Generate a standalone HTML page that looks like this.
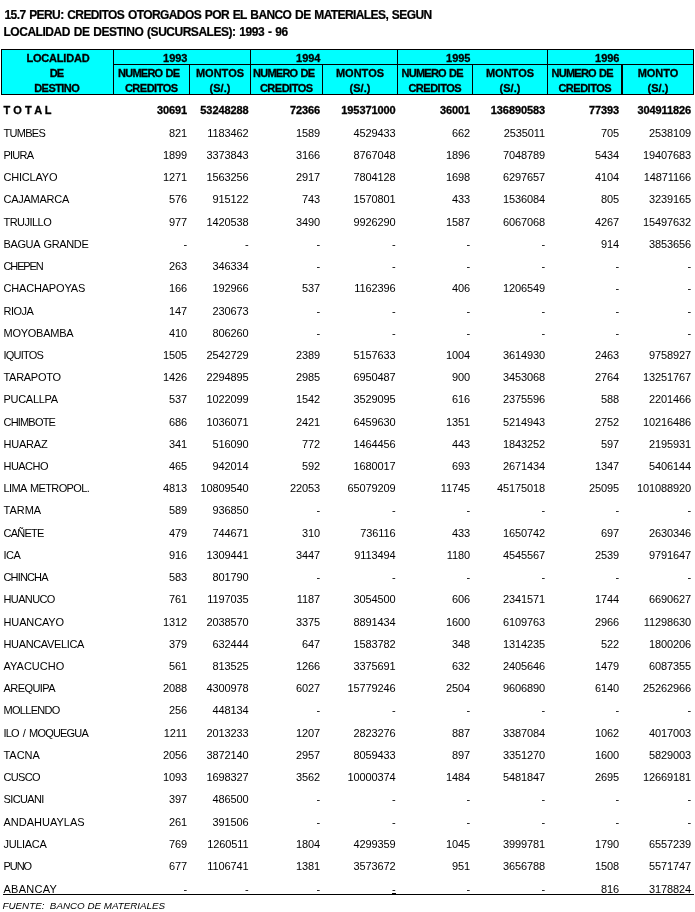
<!DOCTYPE html>
<html lang="es"><head><meta charset="utf-8"><title>15.7 PERU: CREDITOS OTORGADOS POR EL BANCO DE MATERIALES</title>
<style>
html,body{margin:0;padding:0;background:#fff;}
body{width:695px;height:912px;position:relative;overflow:hidden;font-family:"Liberation Sans",sans-serif;color:#000;}
.t{position:absolute;left:3.5px;font-weight:bold;-webkit-text-stroke:0.2px #000;font-size:12px;line-height:14px;white-space:nowrap;letter-spacing:-0.57px;word-spacing:1px;}
.r{position:absolute;left:0;width:695px;height:13px;font-size:11px;line-height:13px;white-space:nowrap;}
.r span{position:absolute;top:0;}
.r .l{left:3.5px;}
.r .n{text-align:right;width:80px;letter-spacing:-0.12px;}
.b .n{letter-spacing:-0.1px;}
.b{font-weight:bold;-webkit-text-stroke:0.3px #000;}
.hd{position:absolute;background:#0ff;border:1px solid #000;box-sizing:border-box;}
.h{position:absolute;-webkit-text-stroke:0.3px #000;font-weight:bold;font-size:11px;line-height:13px;height:13px;text-align:center;white-space:nowrap;}
.hr{position:absolute;-webkit-text-stroke:0.3px #000;font-weight:bold;font-size:11px;line-height:13px;height:13px;text-align:right;white-space:nowrap;width:60px;}
.ln{position:absolute;background:#000;}
.f{position:absolute;left:2.5px;font-style:italic;font-size:9.8px;line-height:12px;white-space:pre;}
</style></head><body>
<div class="t" style="top:8px;left:4.5px;letter-spacing:-0.6px">15.7 PERU: CREDITOS OTORGADOS POR EL BANCO DE MATERIALES, SEGUN</div>
<div class="t" style="top:25px;letter-spacing:-0.48px">LOCALIDAD DE DESTINO (SUCURSALES): 1993 - 96</div>
<div class="hd" style="left:1px;top:49px;width:693px;height:46px"></div>
<div class="ln" style="left:113px;top:49px;width:1px;height:46px"></div>
<div class="ln" style="left:189px;top:64px;width:1px;height:31px"></div>
<div class="ln" style="left:250px;top:49px;width:1px;height:46px"></div>
<div class="ln" style="left:322px;top:64px;width:1px;height:31px"></div>
<div class="ln" style="left:397px;top:49px;width:1px;height:46px"></div>
<div class="ln" style="left:472px;top:64px;width:1px;height:31px"></div>
<div class="ln" style="left:547px;top:49px;width:1px;height:46px"></div>
<div class="ln" style="left:621px;top:64px;width:2px;height:31px"></div>
<div class="ln" style="left:113px;top:64px;width:581px;height:1px"></div>
<div class="h" style="left:-2.1px;width:120px;top:52px;letter-spacing:-0.2px;word-spacing:0.2px">LOCALIDAD</div>
<div class="h" style="left:-3.5px;width:120px;top:67px;letter-spacing:-1px;word-spacing:1px">DE</div>
<div class="h" style="left:-3.275px;width:120px;top:82px;letter-spacing:-0.55px;word-spacing:0.55px">DESTINO</div>
<div class="hr" style="left:127.5px;top:52px">1993</div>
<div class="h" style="left:88.625px;width:120px;top:67px;letter-spacing:-0.75px;word-spacing:0.75px">NUMERO DE</div>
<div class="h" style="left:91.25px;width:120px;top:82px;letter-spacing:-0.5px;word-spacing:0.5px">CREDITOS</div>
<div class="h" style="left:160px;width:120px;top:67px">MONTOS</div>
<div class="h" style="left:160px;width:120px;top:82px">(S/.)</div>
<div class="hr" style="left:260.5px;top:52px">1994</div>
<div class="h" style="left:223.625px;width:120px;top:67px;letter-spacing:-0.75px;word-spacing:0.75px">NUMERO DE</div>
<div class="h" style="left:226.25px;width:120px;top:82px;letter-spacing:-0.5px;word-spacing:0.5px">CREDITOS</div>
<div class="h" style="left:300px;width:120px;top:67px">MONTOS</div>
<div class="h" style="left:300px;width:120px;top:82px">(S/.)</div>
<div class="hr" style="left:410.5px;top:52px">1995</div>
<div class="h" style="left:372.125px;width:120px;top:67px;letter-spacing:-0.75px;word-spacing:0.75px">NUMERO DE</div>
<div class="h" style="left:374.75px;width:120px;top:82px;letter-spacing:-0.5px;word-spacing:0.5px">CREDITOS</div>
<div class="h" style="left:450px;width:120px;top:67px">MONTOS</div>
<div class="h" style="left:450px;width:120px;top:82px">(S/.)</div>
<div class="hr" style="left:559.5px;top:52px">1996</div>
<div class="h" style="left:522.125px;width:120px;top:67px;letter-spacing:-0.75px;word-spacing:0.75px">NUMERO DE</div>
<div class="h" style="left:524.75px;width:120px;top:82px;letter-spacing:-0.5px;word-spacing:0.5px">CREDITOS</div>
<div class="h" style="left:598px;width:120px;top:67px">MONTO</div>
<div class="h" style="left:598px;width:120px;top:82px">(S/.)</div>
<div class="r b" style="top:104px"><span class="l">T O T A L</span><span class="n" style="left:107px">30691</span><span class="n" style="left:168.5px">53248288</span><span class="n" style="left:240px">72366</span><span class="n" style="left:315.5px">195371000</span><span class="n" style="left:390px">36001</span><span class="n" style="left:465px">136890583</span><span class="n" style="left:539px">77393</span><span class="n" style="left:611px">304911826</span></div>
<div class="r" style="top:127px"><span class="l" style="letter-spacing:-0.72px">TUMBES</span><span class="n" style="left:107px">821</span><span class="n" style="left:168.5px">1183462</span><span class="n" style="left:240px">1589</span><span class="n" style="left:315.5px">4529433</span><span class="n" style="left:390px">662</span><span class="n" style="left:465px">2535011</span><span class="n" style="left:539px">705</span><span class="n" style="left:611px">2538109</span></div>
<div class="r" style="top:149px"><span class="l" style="letter-spacing:-0.78px">PIURA</span><span class="n" style="left:107px">1899</span><span class="n" style="left:168.5px">3373843</span><span class="n" style="left:240px">3166</span><span class="n" style="left:315.5px">8767048</span><span class="n" style="left:390px">1896</span><span class="n" style="left:465px">7048789</span><span class="n" style="left:539px">5434</span><span class="n" style="left:611px">19407683</span></div>
<div class="r" style="top:171px"><span class="l" style="letter-spacing:-0.2px">CHICLAYO</span><span class="n" style="left:107px">1271</span><span class="n" style="left:168.5px">1563256</span><span class="n" style="left:240px">2917</span><span class="n" style="left:315.5px">7804128</span><span class="n" style="left:390px">1698</span><span class="n" style="left:465px">6297657</span><span class="n" style="left:539px">4104</span><span class="n" style="left:611px">14871166</span></div>
<div class="r" style="top:193px"><span class="l" style="letter-spacing:-0.25px">CAJAMARCA</span><span class="n" style="left:107px">576</span><span class="n" style="left:168.5px">915122</span><span class="n" style="left:240px">743</span><span class="n" style="left:315.5px">1570801</span><span class="n" style="left:390px">433</span><span class="n" style="left:465px">1536084</span><span class="n" style="left:539px">805</span><span class="n" style="left:611px">3239165</span></div>
<div class="r" style="top:216px"><span class="l" style="letter-spacing:-0.53px">TRUJILLO</span><span class="n" style="left:107px">977</span><span class="n" style="left:168.5px">1420538</span><span class="n" style="left:240px">3490</span><span class="n" style="left:315.5px">9926290</span><span class="n" style="left:390px">1587</span><span class="n" style="left:465px">6067068</span><span class="n" style="left:539px">4267</span><span class="n" style="left:611px">15497632</span></div>
<div class="r" style="top:238px"><span class="l" style="letter-spacing:-0.37px;word-spacing:1.31px">BAGUA GRANDE</span><span class="n" style="left:107px">-</span><span class="n" style="left:168.5px">-</span><span class="n" style="left:240px">-</span><span class="n" style="left:315.5px">-</span><span class="n" style="left:390px">-</span><span class="n" style="left:465px">-</span><span class="n" style="left:539px">914</span><span class="n" style="left:611px">3853656</span></div>
<div class="r" style="top:260px"><span class="l" style="letter-spacing:-1.12px">CHEPEN</span><span class="n" style="left:107px">263</span><span class="n" style="left:168.5px">346334</span><span class="n" style="left:240px">-</span><span class="n" style="left:315.5px">-</span><span class="n" style="left:390px">-</span><span class="n" style="left:465px">-</span><span class="n" style="left:539px">-</span><span class="n" style="left:611px">-</span></div>
<div class="r" style="top:282px"><span class="l" style="letter-spacing:-0.18px">CHACHAPOYAS</span><span class="n" style="left:107px">166</span><span class="n" style="left:168.5px">192966</span><span class="n" style="left:240px">537</span><span class="n" style="left:315.5px">1162396</span><span class="n" style="left:390px">406</span><span class="n" style="left:465px">1206549</span><span class="n" style="left:539px">-</span><span class="n" style="left:611px">-</span></div>
<div class="r" style="top:305px"><span class="l" style="letter-spacing:-0.53px">RIOJA</span><span class="n" style="left:107px">147</span><span class="n" style="left:168.5px">230673</span><span class="n" style="left:240px">-</span><span class="n" style="left:315.5px">-</span><span class="n" style="left:390px">-</span><span class="n" style="left:465px">-</span><span class="n" style="left:539px">-</span><span class="n" style="left:611px">-</span></div>
<div class="r" style="top:327px"><span class="l" style="letter-spacing:-0.25px">MOYOBAMBA</span><span class="n" style="left:107px">410</span><span class="n" style="left:168.5px">806260</span><span class="n" style="left:240px">-</span><span class="n" style="left:315.5px">-</span><span class="n" style="left:390px">-</span><span class="n" style="left:465px">-</span><span class="n" style="left:539px">-</span><span class="n" style="left:611px">-</span></div>
<div class="r" style="top:349px"><span class="l" style="letter-spacing:-0.8px">IQUITOS</span><span class="n" style="left:107px">1505</span><span class="n" style="left:168.5px">2542729</span><span class="n" style="left:240px">2389</span><span class="n" style="left:315.5px">5157633</span><span class="n" style="left:390px">1004</span><span class="n" style="left:465px">3614930</span><span class="n" style="left:539px">2463</span><span class="n" style="left:611px">9758927</span></div>
<div class="r" style="top:371px"><span class="l" style="letter-spacing:-0.29px">TARAPOTO</span><span class="n" style="left:107px">1426</span><span class="n" style="left:168.5px">2294895</span><span class="n" style="left:240px">2985</span><span class="n" style="left:315.5px">6950487</span><span class="n" style="left:390px">900</span><span class="n" style="left:465px">3453068</span><span class="n" style="left:539px">2764</span><span class="n" style="left:611px">13251767</span></div>
<div class="r" style="top:393px"><span class="l" style="letter-spacing:-0.29px">PUCALLPA</span><span class="n" style="left:107px">537</span><span class="n" style="left:168.5px">1022099</span><span class="n" style="left:240px">1542</span><span class="n" style="left:315.5px">3529095</span><span class="n" style="left:390px">616</span><span class="n" style="left:465px">2375596</span><span class="n" style="left:539px">588</span><span class="n" style="left:611px">2201466</span></div>
<div class="r" style="top:416px"><span class="l" style="letter-spacing:-0.81px">CHIMBOTE</span><span class="n" style="left:107px">686</span><span class="n" style="left:168.5px">1036071</span><span class="n" style="left:240px">2421</span><span class="n" style="left:315.5px">6459630</span><span class="n" style="left:390px">1351</span><span class="n" style="left:465px">5214943</span><span class="n" style="left:539px">2752</span><span class="n" style="left:611px">10216486</span></div>
<div class="r" style="top:438px"><span class="l" style="letter-spacing:-0.2px">HUARAZ</span><span class="n" style="left:107px">341</span><span class="n" style="left:168.5px">516090</span><span class="n" style="left:240px">772</span><span class="n" style="left:315.5px">1464456</span><span class="n" style="left:390px">443</span><span class="n" style="left:465px">1843252</span><span class="n" style="left:539px">597</span><span class="n" style="left:611px">2195931</span></div>
<div class="r" style="top:460px"><span class="l" style="letter-spacing:-0.54px">HUACHO</span><span class="n" style="left:107px">465</span><span class="n" style="left:168.5px">942014</span><span class="n" style="left:240px">592</span><span class="n" style="left:315.5px">1680017</span><span class="n" style="left:390px">693</span><span class="n" style="left:465px">2671434</span><span class="n" style="left:539px">1347</span><span class="n" style="left:611px">5406144</span></div>
<div class="r" style="top:482px"><span class="l" style="letter-spacing:-0.63px;word-spacing:1.57px">LIMA METROPOL.</span><span class="n" style="left:107px">4813</span><span class="n" style="left:168.5px">10809540</span><span class="n" style="left:240px">22053</span><span class="n" style="left:315.5px">65079209</span><span class="n" style="left:390px">11745</span><span class="n" style="left:465px">45175018</span><span class="n" style="left:539px">25095</span><span class="n" style="left:611px">101088920</span></div>
<div class="r" style="top:504px"><span class="l">TARMA</span><span class="n" style="left:107px">589</span><span class="n" style="left:168.5px">936850</span><span class="n" style="left:240px">-</span><span class="n" style="left:315.5px">-</span><span class="n" style="left:390px">-</span><span class="n" style="left:465px">-</span><span class="n" style="left:539px">-</span><span class="n" style="left:611px">-</span></div>
<div class="r" style="top:527px"><span class="l" style="letter-spacing:-0.76px">CAÑETE</span><span class="n" style="left:107px">479</span><span class="n" style="left:168.5px">744671</span><span class="n" style="left:240px">310</span><span class="n" style="left:315.5px">736116</span><span class="n" style="left:390px">433</span><span class="n" style="left:465px">1650742</span><span class="n" style="left:539px">697</span><span class="n" style="left:611px">2630346</span></div>
<div class="r" style="top:549px"><span class="l" style="letter-spacing:-0.55px">ICA</span><span class="n" style="left:107px">916</span><span class="n" style="left:168.5px">1309441</span><span class="n" style="left:240px">3447</span><span class="n" style="left:315.5px">9113494</span><span class="n" style="left:390px">1180</span><span class="n" style="left:465px">4545567</span><span class="n" style="left:539px">2539</span><span class="n" style="left:611px">9791647</span></div>
<div class="r" style="top:571px"><span class="l" style="letter-spacing:-0.85px">CHINCHA</span><span class="n" style="left:107px">583</span><span class="n" style="left:168.5px">801790</span><span class="n" style="left:240px">-</span><span class="n" style="left:315.5px">-</span><span class="n" style="left:390px">-</span><span class="n" style="left:465px">-</span><span class="n" style="left:539px">-</span><span class="n" style="left:611px">-</span></div>
<div class="r" style="top:593px"><span class="l" style="letter-spacing:-0.62px">HUANUCO</span><span class="n" style="left:107px">761</span><span class="n" style="left:168.5px">1197035</span><span class="n" style="left:240px">1187</span><span class="n" style="left:315.5px">3054500</span><span class="n" style="left:390px">606</span><span class="n" style="left:465px">2341571</span><span class="n" style="left:539px">1744</span><span class="n" style="left:611px">6690627</span></div>
<div class="r" style="top:616px"><span class="l" style="letter-spacing:-0.13px">HUANCAYO</span><span class="n" style="left:107px">1312</span><span class="n" style="left:168.5px">2038570</span><span class="n" style="left:240px">3375</span><span class="n" style="left:315.5px">8891434</span><span class="n" style="left:390px">1600</span><span class="n" style="left:465px">6109763</span><span class="n" style="left:539px">2966</span><span class="n" style="left:611px">11298630</span></div>
<div class="r" style="top:638px"><span class="l" style="letter-spacing:-0.35px">HUANCAVELICA</span><span class="n" style="left:107px">379</span><span class="n" style="left:168.5px">632444</span><span class="n" style="left:240px">647</span><span class="n" style="left:315.5px">1583782</span><span class="n" style="left:390px">348</span><span class="n" style="left:465px">1314235</span><span class="n" style="left:539px">522</span><span class="n" style="left:611px">1800206</span></div>
<div class="r" style="top:660px"><span class="l">AYACUCHO</span><span class="n" style="left:107px">561</span><span class="n" style="left:168.5px">813525</span><span class="n" style="left:240px">1266</span><span class="n" style="left:315.5px">3375691</span><span class="n" style="left:390px">632</span><span class="n" style="left:465px">2405646</span><span class="n" style="left:539px">1479</span><span class="n" style="left:611px">6087355</span></div>
<div class="r" style="top:682px"><span class="l" style="letter-spacing:-0.57px">AREQUIPA</span><span class="n" style="left:107px">2088</span><span class="n" style="left:168.5px">4300978</span><span class="n" style="left:240px">6027</span><span class="n" style="left:315.5px">15779246</span><span class="n" style="left:390px">2504</span><span class="n" style="left:465px">9606890</span><span class="n" style="left:539px">6140</span><span class="n" style="left:611px">25262966</span></div>
<div class="r" style="top:704px"><span class="l" style="letter-spacing:-0.69px">MOLLENDO</span><span class="n" style="left:107px">256</span><span class="n" style="left:168.5px">448134</span><span class="n" style="left:240px">-</span><span class="n" style="left:315.5px">-</span><span class="n" style="left:390px">-</span><span class="n" style="left:465px">-</span><span class="n" style="left:539px">-</span><span class="n" style="left:611px">-</span></div>
<div class="r" style="top:727px"><span class="l" style="letter-spacing:-0.81px;word-spacing:1.75px">ILO / MOQUEGUA</span><span class="n" style="left:107px">1211</span><span class="n" style="left:168.5px">2013233</span><span class="n" style="left:240px">1207</span><span class="n" style="left:315.5px">2823276</span><span class="n" style="left:390px">887</span><span class="n" style="left:465px">3387084</span><span class="n" style="left:539px">1062</span><span class="n" style="left:611px">4017003</span></div>
<div class="r" style="top:749px"><span class="l" style="letter-spacing:-0.03px">TACNA</span><span class="n" style="left:107px">2056</span><span class="n" style="left:168.5px">3872140</span><span class="n" style="left:240px">2957</span><span class="n" style="left:315.5px">8059433</span><span class="n" style="left:390px">897</span><span class="n" style="left:465px">3351270</span><span class="n" style="left:539px">1600</span><span class="n" style="left:611px">5829003</span></div>
<div class="r" style="top:771px"><span class="l" style="letter-spacing:-0.68px">CUSCO</span><span class="n" style="left:107px">1093</span><span class="n" style="left:168.5px">1698327</span><span class="n" style="left:240px">3562</span><span class="n" style="left:315.5px">10000374</span><span class="n" style="left:390px">1484</span><span class="n" style="left:465px">5481847</span><span class="n" style="left:539px">2695</span><span class="n" style="left:611px">12669181</span></div>
<div class="r" style="top:793px"><span class="l" style="letter-spacing:-0.63px">SICUANI</span><span class="n" style="left:107px">397</span><span class="n" style="left:168.5px">486500</span><span class="n" style="left:240px">-</span><span class="n" style="left:315.5px">-</span><span class="n" style="left:390px">-</span><span class="n" style="left:465px">-</span><span class="n" style="left:539px">-</span><span class="n" style="left:611px">-</span></div>
<div class="r" style="top:816px"><span class="l">ANDAHUAYLAS</span><span class="n" style="left:107px">261</span><span class="n" style="left:168.5px">391506</span><span class="n" style="left:240px">-</span><span class="n" style="left:315.5px">-</span><span class="n" style="left:390px">-</span><span class="n" style="left:465px">-</span><span class="n" style="left:539px">-</span><span class="n" style="left:611px">-</span></div>
<div class="r" style="top:838px"><span class="l" style="letter-spacing:-0.33px">JULIACA</span><span class="n" style="left:107px">769</span><span class="n" style="left:168.5px">1260511</span><span class="n" style="left:240px">1804</span><span class="n" style="left:315.5px">4299359</span><span class="n" style="left:390px">1045</span><span class="n" style="left:465px">3999781</span><span class="n" style="left:539px">1790</span><span class="n" style="left:611px">6557239</span></div>
<div class="r" style="top:860px"><span class="l" style="letter-spacing:-1.07px">PUNO</span><span class="n" style="left:107px">677</span><span class="n" style="left:168.5px">1106741</span><span class="n" style="left:240px">1381</span><span class="n" style="left:315.5px">3573672</span><span class="n" style="left:390px">951</span><span class="n" style="left:465px">3656788</span><span class="n" style="left:539px">1508</span><span class="n" style="left:611px">5571747</span></div>
<div class="r" style="top:883px"><span class="l" style="letter-spacing:0.25px">ABANCAY</span><span class="n" style="left:107px">-</span><span class="n" style="left:168.5px">-</span><span class="n" style="left:240px">-</span><span class="n" style="left:315.5px">-</span><span class="n" style="left:390px">-</span><span class="n" style="left:465px">-</span><span class="n" style="left:539px">816</span><span class="n" style="left:611px">3178824</span></div>
<div class="ln" style="left:3px;top:894px;width:691px;height:1px"></div>
<div class="ln" style="left:392px;top:893px;width:4px;height:1px"></div>
<div class="f" style="top:900px">FUENTE:  BANCO DE MATERIALES</div>
</body></html>
